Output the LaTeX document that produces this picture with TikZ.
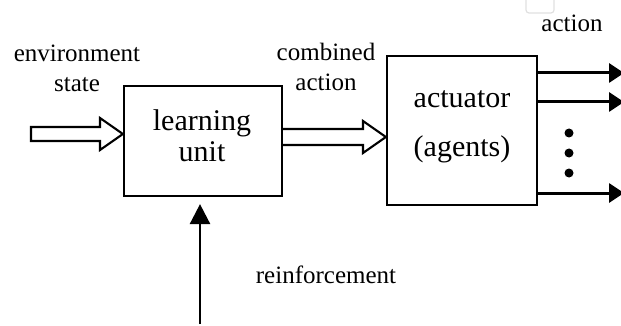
\documentclass[tikz,border=0pt]{standalone}
\usepackage{fontspec}
\setmainfont{Liberation Serif}
\usetikzlibrary{arrows.meta,calc}

\tikzset{
  label text/.style={inner sep=0pt, anchor=base, font=\fontsize{25}{30}\selectfont},
  box text/.style={inner sep=0pt, anchor=base, font=\fontsize{30}{30}\selectfont},
  unitbox/.style={draw, line width=2.2pt, rectangle, inner sep=0pt},
  hollow/.style={draw, fill=white, line width=2.1pt, line join=miter},
  outarrow/.style={line width=3pt, -{Triangle[length=15pt,width=19pt]}},
  reinf/.style={line width=2.6pt, -{Triangle[length=20pt,width=20pt]}},
  dot/.style={circle, fill=black, inner sep=0pt, minimum size=9pt},
}

\begin{document}
\begin{tikzpicture}[x=1pt, y=-1pt]
  \useasboundingbox (0,0) rectangle (621,326);
  \clip (0,0) rectangle (621,326);

  % faint tab above the outputs
  \draw[black!12, line width=1.2pt, rounded corners=3pt] (526,-8) rectangle (554,13);

  % blocks
  \node[unitbox, minimum width=158pt, minimum height=110pt] (learn) at (203,141) {};
  \node[unitbox, minimum width=150pt, minimum height=149pt] (act) at (462,130.5) {};

  % block texts
  \node[box text] (learn1) at (202,131) {learning};
  \node[box text] (learn2) at (202,161) {unit};
  \node[box text] (act1) at (462,108) {actuator};
  \node[box text] (act2) at (462,157) {(agents)};

  % labels
  \node[label text] (env1) at (77,62) {environment};
  \node[label text] (env2) at (77,92) {state};
  \node[label text] (comb1) at (326,61) {combined};
  \node[label text] (comb2) at (326,91) {action};
  \node[label text] (outlab) at (572,32) {action};
  \node[label text] (reinflab) at (326,283) {reinforcement};

  % hollow input arrow into the learning unit
  \draw[hollow] (31,127) -- (100,127) -- (100,118) -- (learn.west |- 0,134)
    -- (100,150) -- (100,141) -- (31,141) -- cycle;

  % hollow arrow from the learning unit to the actuator
  \draw[hollow] (learn.east |- 0,129) -- (363,129) -- (363,121) -- (act.west |- 0,137)
    -- (363,153) -- (363,145) -- (learn.east |- 0,145);

  % reinforcement signal
  \coordinate (rbot) at (200,324);
  \draw[reinf, shorten >=7pt] (rbot) -- (rbot |- learn.south);

  % actuator outputs
  \coordinate (o1) at (624,73);
  \coordinate (o2) at (624,102);
  \coordinate (o3) at (624,193);
  \draw[outarrow] (act.east |- o1) -- (o1);
  \draw[outarrow] (act.east |- o2) -- (o2);
  \draw[outarrow] (act.east |- o3) -- (o3);

  % ellipsis between the outputs
  \node[dot] (d1) at (569,133) {};
  \node[dot] (d2) at (569,153) {};
  \node[dot] (d3) at (569,173) {};
\end{tikzpicture}
\end{document}
